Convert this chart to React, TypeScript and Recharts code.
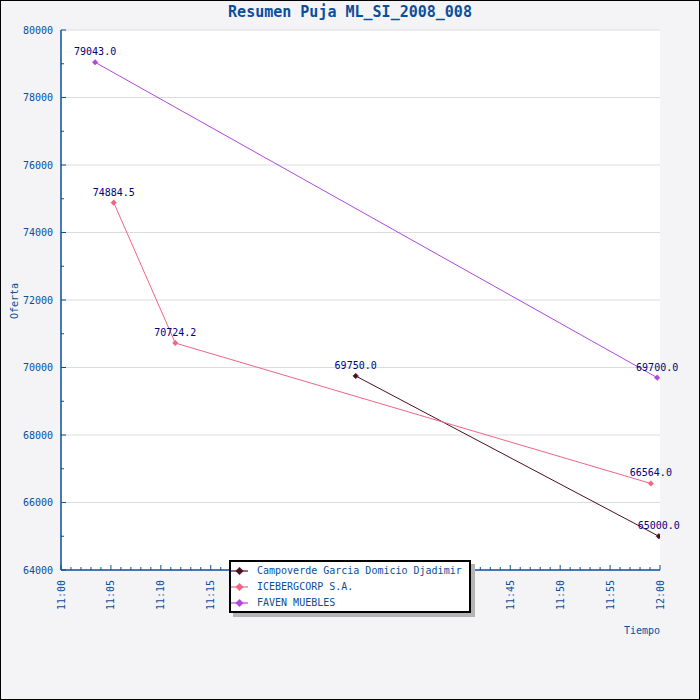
import React from 'react';
import { LineChart, Line, XAxis, YAxis, CartesianGrid, ReferenceLine, LabelList } from 'recharts';

const seriesNames = ['Campoverde Garcia Domicio Djadimir', 'ICEBERGCORP S.A.', 'FAVEN MUEBLES'];
const seriesColors = ['#4d0f1f', '#f06484', '#b146dc'];

const campoverdeTimes = ['11:29:31', '11:59:53'];
const campoverdeBids = [69750.0, 65000.0];
const icebergTimes = ['11:05:17', '11:11:27', '11:59:05'];
const icebergBids = [74884.5, 70724.2, 66564.0];
const favenTimes = ['11:03:25', '11:59:43'];
const favenBids = [79043.0, 69700.0];

const xTickLabels = ['11:00', '11:05', '11:10', '11:15', '11:20', '11:25', '11:30', '11:35', '11:40', '11:45', '11:50', '11:55', '12:00'];
const yTicks = [64000, 65000, 66000, 67000, 68000, 69000, 70000, 71000, 72000, 73000, 74000, 75000, 76000, 77000, 78000, 79000, 80000];
const gridValues = [66000, 68000, 70000, 72000, 74000, 76000, 78000, 80000];

const AXIS = '#0a4f9c';
const LABEL = '#000080';
const MONO = '"DejaVu Sans Mono", "Liberation Mono", monospace';

// minutes after 11:00
const toMinutes = (s: string) => {
  const [h, m, sec] = s.split(':').map(Number);
  return h * 60 + m + sec / 60 - 660;
};

const build = (times: string[], bids: number[]) => times.map((t, i) => ({ t: toMinutes(t), v: bids[i] }));

const series = [
  build(campoverdeTimes, campoverdeBids),
  build(icebergTimes, icebergBids),
  build(favenTimes, favenBids),
];

const minuteTicks = Array.from({ length: 61 }, (_, i) => i);

function XTick(props: any) {
  const { x, y, payload } = props;
  const v = payload.value;
  const major = v % 5 === 0;
  return (
    <g>
      <line x1={x} y1={y} x2={x} y2={y - (major ? 5 : 3)} stroke={AXIS} strokeWidth={1} />
      {major && (
        <text
          x={x}
          y={y + 10}
          transform={`rotate(-90 ${x} ${y + 10})`}
          textAnchor="end"
          dominantBaseline="central"
          fill={AXIS}
          fontSize={10}
          fontFamily={MONO}
        >
          {xTickLabels[v / 5]}
        </text>
      )}
    </g>
  );
}

function YTick(props: any) {
  const { x, y, payload } = props;
  const major = payload.value % 2000 === 0;
  return (
    <g>
      <line x1={x} y1={y} x2={x + (major ? 5 : 3)} y2={y} stroke={AXIS} strokeWidth={1} />
      {major && (
        <text x={x - 8} y={y} textAnchor="end" dominantBaseline="central" fill={AXIS} fontSize={10} fontFamily={MONO}>
          {payload.value}
        </text>
      )}
    </g>
  );
}

const Diamond = ({ cx, cy, color, r }: { cx: number; cy: number; color: string; r: number }) => (
  <polygon points={`${cx},${cy - r} ${cx + r},${cy} ${cx},${cy + r} ${cx - r},${cy}`} fill={color} stroke={color} strokeWidth={0.5} />
);

const PointLabel = (props: any) => {
  const { x, y, value } = props;
  return (
    <text x={x} y={y - 7} textAnchor="middle" fill={LABEL} fontSize={10} fontFamily={MONO}>
      {Number(value).toFixed(1)}
    </text>
  );
};

export default function App() {
  return (
    <div style={{ position: 'absolute', left: 0, top: 0, width: 700, height: 700, fontFamily: MONO }}>
      <LineChart width={700} height={700} margin={{ top: 30, right: 40, bottom: 70, left: 0 }} style={{ background: '#f4f4f6' }}>
        <CartesianGrid horizontal={false} vertical={false} fill="#ffffff" fillOpacity={1} />
        {gridValues.map((g) => (
          <ReferenceLine key={g} y={g} stroke="#dcdcdc" strokeWidth={1} />
        ))}
        <XAxis
          type="number"
          dataKey="t"
          domain={[0, 60]}
          ticks={minuteTicks}
          interval={0}
          height={60}
          tickSize={0}
          tickMargin={0}
          tickLine={false}
          tick={<XTick />}
          axisLine={{ stroke: AXIS, strokeWidth: 1.5 }}
          allowDataOverflow
        />
        <YAxis
          type="number"
          dataKey="v"
          domain={[64000, 80000]}
          ticks={yTicks}
          interval={0}
          width={61}
          tickSize={0}
          tickMargin={0}
          tickLine={false}
          tick={<YTick />}
          axisLine={{ stroke: AXIS, strokeWidth: 1.5 }}
          allowDataOverflow
        />
        {series.map((d, i) => (
          <Line
            key={seriesNames[i]}
            data={d}
            dataKey="v"
            name={seriesNames[i]}
            stroke={seriesColors[i]}
            strokeWidth={1}
            isAnimationActive={false}
            activeDot={false}
            dot={(p: any) => <Diamond key={p.index} cx={p.cx} cy={p.cy} color={seriesColors[i]} r={2.8} />}
          >
            <LabelList dataKey="v" content={<PointLabel />} />
          </Line>
        ))}
      </LineChart>

      <div
        style={{
          position: 'absolute',
          left: 0,
          width: 700,
          top: 5,
          textAlign: 'center',
          fontSize: 15,
          lineHeight: '15px',
          fontWeight: 'bold',
          color: AXIS,
        }}
      >
        Resumen Puja ML_SI_2008_008
      </div>

      <div
        style={{
          position: 'absolute',
          left: 14.5,
          top: 301,
          transform: 'translate(-50%, -50%) rotate(-90deg)',
          fontSize: 10,
          lineHeight: '10px',
          color: AXIS,
        }}
      >
        Oferta
      </div>

      <div style={{ position: 'absolute', right: 40, top: 625.5, fontSize: 10, lineHeight: '10px', color: AXIS }}>Tiempo</div>

      <div
        style={{
          position: 'absolute',
          left: 229,
          top: 560,
          width: 242,
          height: 53,
          boxSizing: 'border-box',
          border: '2px solid #000',
          background: '#fff',
          boxShadow: '4px 4px 0 #b4b4b4',
          paddingTop: 1,
        }}
      >
        {seriesNames.map((n, i) => (
          <div key={n} style={{ display: 'flex', alignItems: 'center', height: 16 }}>
            <svg width={18} height={16} style={{ flex: 'none' }}>
              <line x1={0} y1={8} x2={17} y2={8} stroke={seriesColors[i]} strokeWidth={1.2} />
              <Diamond cx={8.5} cy={8} color={seriesColors[i]} r={3.8} />
            </svg>
            <span style={{ marginLeft: 8, fontSize: 10, lineHeight: '16px', color: AXIS, whiteSpace: 'nowrap' }}>{n}</span>
          </div>
        ))}
      </div>

      <div
        style={{
          position: 'absolute',
          left: 0,
          top: 0,
          width: 700,
          height: 700,
          boxSizing: 'border-box',
          border: '1px solid #000',
          pointerEvents: 'none',
        }}
      />
    </div>
  );
}
